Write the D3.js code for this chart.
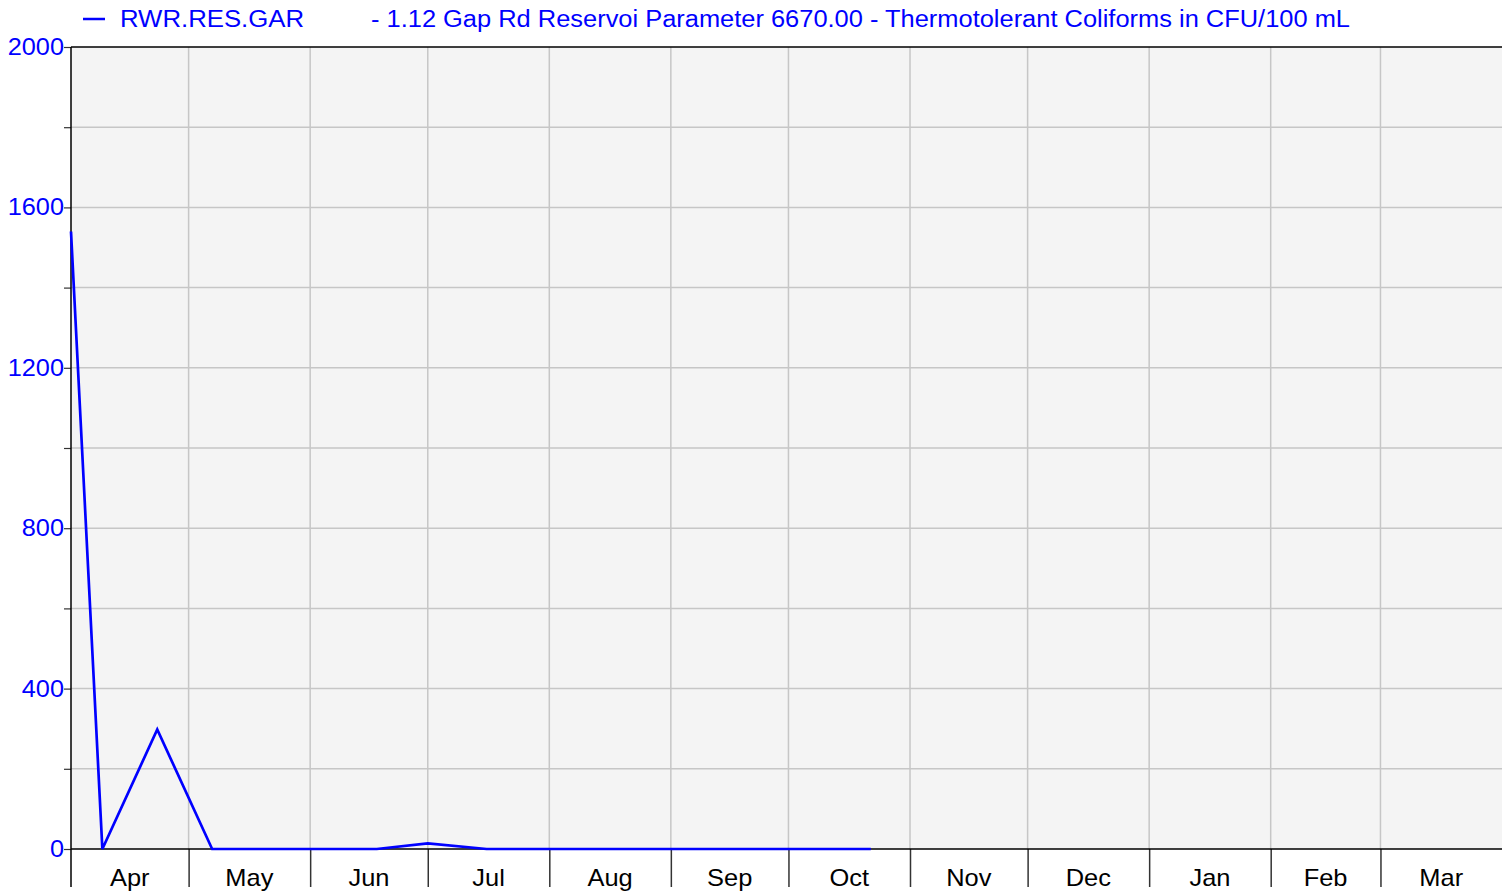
<!DOCTYPE html>
<html>
<head>
<meta charset="utf-8">
<script src="https://cdn.jsdelivr.net/npm/d3@7"></script>
<style>
  html, body { margin: 0; padding: 0; background: #fff; }
  svg { display: block; }
  text { font-family: "Liberation Sans", Arial, sans-serif; }
</style>
</head>
<body>
<svg id="chart" width="1502" height="893"></svg>
<script>
// ---- data ----
const seriesName = "RWR.RES.GAR";
const seriesDesc = "- 1.12 Gap Rd Reservoi Parameter 6670.00 - Thermotolerant Coliforms in CFU/100 mL";
const sampleDates = ["2018-04-01","2018-04-09","2018-04-23","2018-05-07","2018-05-21","2018-06-04",
  "2018-06-18","2018-07-01","2018-07-16","2018-07-30","2018-08-13","2018-08-27","2018-09-10",
  "2018-09-24","2018-10-08","2018-10-22"];
const sampleValues = [1540, 0, 298, 0, 0, 0, 0, 14, 0, 0, 0, 0, 0, 0, 0, 0];
const yTickLabels = [0, 400, 800, 1200, 1600, 2000];
const yGridValues = [0, 200, 400, 600, 800, 1000, 1200, 1400, 1600, 1800, 2000];
const monthLabels = ["Apr","May","Jun","Jul","Aug","Sep","Oct","Nov","Dec","Jan","Feb","Mar"];

// ---- layout ----
const svg = d3.select("#chart");
const L = 71, T = 47, R = 1502, B = 849;
const parse = d3.timeParse("%Y-%m-%d");
const start = new Date(2018, 3, 1), end = new Date(2019, 3, 1);
const x = d3.scaleTime().domain([start, end]).range([L, R]);
const y = d3.scaleLinear().domain([0, 2000]).range([B, T]);
const blue = "#0000ff";

// widen text slightly to mimic the reference's wider UI font
function widen(sel, k) {
  sel.each(function() {
    const w = this.getComputedTextLength();
    if (w > 0) d3.select(this).attr("textLength", w * k).attr("lengthAdjust", "spacingAndGlyphs");
  });
}

// plot background
svg.append("rect").attr("x", L).attr("y", T).attr("width", R - L).attr("height", B - T).attr("fill", "#f4f4f4");

const monthStarts = d3.timeMonth.range(start, end);
const monthBounds = d3.timeMonth.range(d3.timeMonth.offset(start, 1), end);

// vertical grid
svg.append("g").selectAll("line").data(monthBounds).join("line")
  .attr("x1", d => x(d)).attr("x2", d => x(d)).attr("y1", T).attr("y2", B)
  .attr("stroke", "#c6c6c6").attr("stroke-width", 1.5);

// horizontal grid
svg.append("g").selectAll("line").data(yGridValues.filter(v => v > 0 && v < 2000)).join("line")
  .attr("x1", L).attr("x2", R).attr("y1", d => y(d)).attr("y2", d => y(d))
  .attr("stroke", "#c6c6c6").attr("stroke-width", 1.5);

// top border
svg.append("line").attr("x1", L).attr("x2", R).attr("y1", T).attr("y2", T)
  .attr("stroke", "#000").attr("stroke-width", 1.5);

// y axis
const yAxis = d3.axisLeft(y).tickValues(yGridValues).tickSize(7)
  .tickFormat(d => yTickLabels.includes(d) ? d : "");
const gy = svg.append("g").attr("transform", `translate(${L},0)`).call(yAxis);
gy.select(".domain").remove();
gy.selectAll(".tick line").attr("stroke", "#333").attr("stroke-width", 1.2);
gy.selectAll(".tick text").attr("fill", blue).attr("font-size", 23)
  .attr("font-family", "Liberation Sans, Arial, sans-serif").attr("x", -7).attr("dy", "0.33em");
widen(gy.selectAll(".tick text"), 1.1);
svg.append("line").attr("x1", L).attr("x2", L).attr("y1", T).attr("y2", 887)
  .attr("stroke", "#000").attr("stroke-width", 1.5);

// x axis
const xAxis = d3.axisBottom(x).tickValues(monthBounds).tickSize(38).tickFormat("");
const gx = svg.append("g").attr("transform", `translate(0,${B})`).call(xAxis);
gx.select(".domain").remove();
gx.selectAll(".tick line").attr("stroke", "#333").attr("stroke-width", 1.5);
svg.append("line").attr("x1", L).attr("x2", R).attr("y1", B).attr("y2", B)
  .attr("stroke", "#000").attr("stroke-width", 1.5);

const mLab = svg.append("g").selectAll("text").data(monthStarts).join("text")
  .attr("x", d => (x(d) + x(d3.timeMonth.offset(d, 1))) / 2)
  .attr("y", 886).attr("text-anchor", "middle").attr("font-size", 24).attr("fill", "#000")
  .text((d, i) => monthLabels[i]);
widen(mLab, 1.06);

// data line
const pts = sampleDates.map((d, i) => ({ date: parse(d), value: sampleValues[i] }));
const line = d3.line().x(d => x(d.date)).y(d => y(d.value));
svg.append("path").datum(pts).attr("d", line).attr("fill", "none")
  .attr("stroke", blue).attr("stroke-width", 2.7).attr("stroke-linejoin", "miter");

// legend
svg.append("line").attr("x1", 83).attr("x2", 105).attr("y1", 19).attr("y2", 19)
  .attr("stroke", blue).attr("stroke-width", 2.5);
svg.append("text").attr("x", 120).attr("y", 27).attr("font-size", 23).attr("fill", blue)
  .attr("textLength", 184).attr("lengthAdjust", "spacingAndGlyphs").text(seriesName);
svg.append("text").attr("x", 371).attr("y", 27).attr("font-size", 23).attr("fill", blue)
  .attr("textLength", 979).attr("lengthAdjust", "spacingAndGlyphs").text(seriesDesc);
</script>
</body>
</html>
